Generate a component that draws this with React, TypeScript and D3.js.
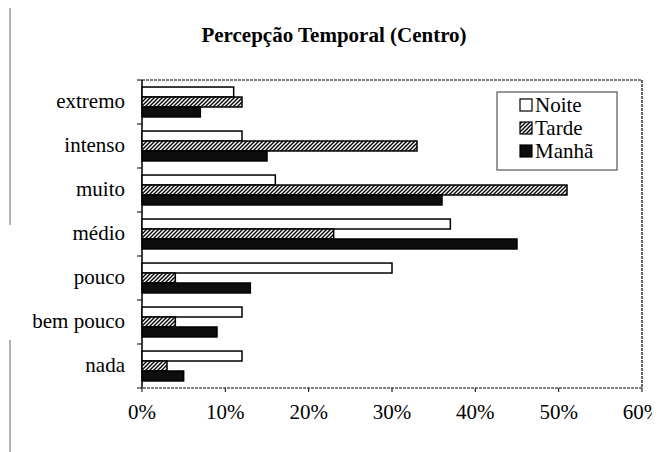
import React from "react";
import * as d3 from "d3";

const categories = ["extremo", "intenso", "muito", "médio", "pouco", "bem pouco", "nada"];
const seriesNames = ["Noite", "Tarde", "Manhã"];
const noite = [0.11, 0.12, 0.16, 0.37, 0.30, 0.12, 0.12];
const tarde = [0.12, 0.33, 0.51, 0.23, 0.04, 0.04, 0.03];
const manha = [0.07, 0.15, 0.36, 0.45, 0.13, 0.09, 0.05];
const xTicks = [0, 0.1, 0.2, 0.3, 0.4, 0.5, 0.6];
const title = "Percepção Temporal (Centro)";

const seriesValues = [noite, tarde, manha];
const fills = ["#fff", "url(#hatch)", "#0d0d0d"];

const F = "Liberation Serif, Tinos, Times New Roman, Nimbus Roman, FreeSerif, DejaVu Serif, Noto Serif, serif";

export default function App() {
  const left = 142, right = 642, top = 80, bottom = 388;
  const x = d3.scaleLinear().domain([0, 0.6]).range([left, right]);
  const y = d3.scaleBand<string>().domain(categories).range([top, bottom]).padding(0);
  const bw = y.bandwidth();
  const inner = d3.scaleBand<string>().domain(seriesNames).range([bw * 0.16, bw * 0.84]).padding(0);
  const fmt = d3.format(".0%");

  return (
    <div>
      <svg width={660} height={452}>
        <defs>
          <pattern id="hatch" patternUnits="userSpaceOnUse" width="4" height="4">
            <rect width="4" height="4" fill="#fff" />
            <path d="M-1,1 l2,-2 M0,4 l4,-4 M3,5 l2,-2" stroke="#000" strokeWidth="1.4" />
          </pattern>
        </defs>
        <g transform="translate(-8,-8)">
          <line x1={10} x2={10} y1={8} y2={225} stroke="#999" strokeWidth={1.5} />
          <line x1={10} x2={10} y1={340} y2={452} stroke="#999" strokeWidth={1.5} />
          <line x1={63} x2={303} y1={7.5} y2={7.5} stroke="#bbb" strokeWidth={1} />
          <line x1={362} x2={606} y1={7.5} y2={7.5} stroke="#bbb" strokeWidth={1} />

          <text x={334} y={42} textAnchor="middle" fontFamily={F} fontWeight="bold" fontSize={21} fill="#000">
            {title}
          </text>

          <path d={`M${left},${top} H${right} V${bottom} H${left}`} fill="none" stroke="#000" strokeWidth={1.2} strokeDasharray="3,1" />
          <line x1={left} x2={left} y1={top} y2={bottom} stroke="#000" strokeWidth={1.5} />

          {categories.map((c, i) => (
            <line key={"ct" + i} x1={left - 5} x2={left} y1={y(c) as number} y2={y(c) as number} stroke="#000" strokeWidth={1} />
          ))}
          <line x1={left - 5} x2={left} y1={bottom} y2={bottom} stroke="#000" strokeWidth={1} />

          {xTicks.map((t, i) => (
            <g key={"xt" + i}>
              <line x1={x(t)} x2={x(t)} y1={bottom} y2={bottom + 4} stroke="#000" strokeWidth={1} />
              <text x={x(t)} y={419} textAnchor="middle" fontFamily={F} fontSize={21} fill="#000">
                {fmt(t)}
              </text>
            </g>
          ))}

          {categories.map((c, i) => (
            <g key={"g" + i} transform={`translate(0,${y(c)})`}>
              {seriesNames.map((s, j) => (
                <rect
                  key={s}
                  x={x(0)}
                  y={inner(s) as number}
                  width={x(seriesValues[j][i]) - x(0)}
                  height={inner.bandwidth()}
                  fill={fills[j]}
                  stroke="#000"
                  strokeWidth={1.5}
                />
              ))}
            </g>
          ))}

          {categories.map((c, i) => (
            <text key={"cl" + i} x={125} y={(y(c) as number) + bw / 2 + 6} textAnchor="end" fontFamily={F} fontSize={21} fill="#000">
              {c}
            </text>
          ))}

          <rect x={497} y={92} width={120} height={78} fill="#fff" stroke="#555" strokeWidth={1.2} />
          {seriesNames.map((s, j) => (
            <g key={"lg" + j} transform={`translate(520,${105 + j * 23})`}>
              <rect x={0} y={-6} width={12} height={12} fill={fills[j]} stroke="#000" strokeWidth={1.2} />
              <text x={15} y={6.5} fontFamily={F} fontSize={21} fill="#000">
                {s}
              </text>
            </g>
          ))}
        </g>
      </svg>
    </div>
  );
}
